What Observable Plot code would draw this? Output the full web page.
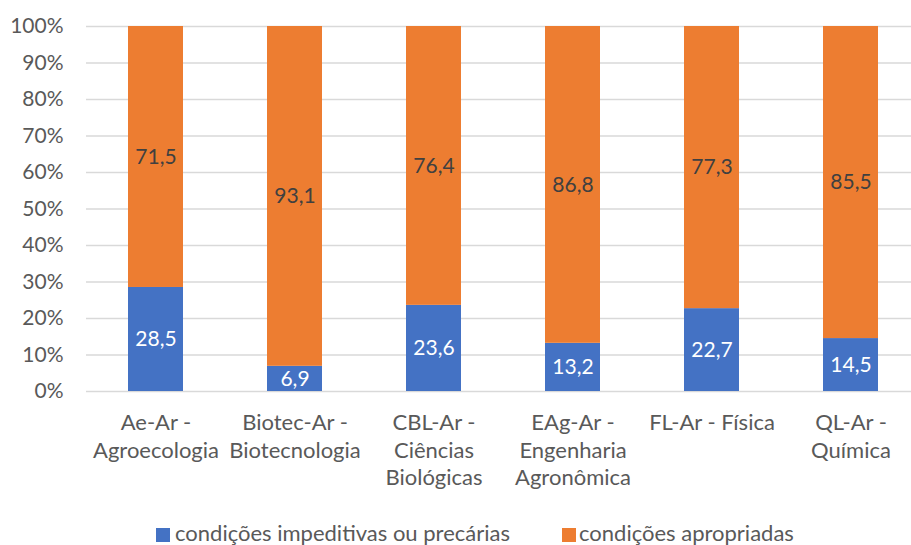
<!DOCTYPE html>
<html>
<head>
<meta charset="utf-8">
<script src="https://cdn.jsdelivr.net/npm/d3@7"></script>
<script src="https://cdn.jsdelivr.net/npm/@observablehq/plot@0.6"></script>
<style>
  html, body { margin: 0; padding: 0; background: #fff; }
  body { width: 911px; height: 545px; overflow: hidden; font-family: Lato, "Open Sans", sans-serif; }
  #legend { height: 40px; position: relative; font-size: 22px; line-height: 22px; color: #595959; }
  .sw { position: absolute; top: 23px; width: 14px; height: 14px; }
  .lt { position: absolute; top: 17px; white-space: nowrap; }
</style>
</head>
<body>
<div id="chart"></div>
<div id="legend"></div>
<script>
const categories = ["Ae-Ar - Agroecologia", "Biotec-Ar - Biotecnologia", "CBL-Ar - Ciências Biológicas", "EAg-Ar - Engenharia Agronômica", "FL-Ar - Física", "QL-Ar - Química"];
const categoryLabels = ["Ae-Ar -\nAgroecologia", "Biotec-Ar -\nBiotecnologia", "CBL-Ar -\nCiências\nBiológicas", "EAg-Ar -\nEngenharia\nAgronômica", "FL-Ar - Física", "QL-Ar -\nQuímica"];
const seriesNames = ["condições impeditivas ou precárias", "condições apropriadas"];
const impeditivas = [28.5, 6.9, 23.6, 13.2, 22.7, 14.5];
const apropriadas = [71.5, 93.1, 76.4, 86.8, 77.3, 85.5];
const yTicks = [0, 10, 20, 30, 40, 50, 60, 70, 80, 90, 100];
const colors = ["#4472C4", "#ED7D31"];

const rows = [];
categories.forEach((c, i) => {
  rows.push({cat: c, series: seriesNames[0], value: impeditivas[i]});
  rows.push({cat: c, series: seriesNames[1], value: apropriadas[i]});
});
const labelOf = new Map(categories.map((c, i) => [c, categoryLabels[i]]));
const fmt = v => v.toFixed(1).replace(".", ",");

const chart = Plot.plot({
  width: 911,
  height: 505,
  marginLeft: 86,
  marginRight: 0,
  marginTop: 26,
  marginBottom: 114,
  style: {fontFamily: "Lato, sans-serif", background: "#fff"},
  x: {domain: categories, range: [84, 922], paddingInner: 0.606, paddingOuter: 0.303, label: null},
  y: {domain: [0, 100], label: null},
  color: {domain: seriesNames, range: colors},
  marks: [
    Plot.ruleY(yTicks, {stroke: "#d9d9d9", strokeWidth: 1.3}),
    Plot.barY(rows, Plot.stackY({x: "cat", y: "value", fill: "series", z: "series"})),
    Plot.text(rows, Plot.stackY({x: "cat", y: "value", z: "series",
      text: d => d.series === seriesNames[0] ? fmt(d.value) : "", fill: "#ffffff", fontSize: 21})),
    Plot.text(rows, Plot.stackY({x: "cat", y: "value", z: "series",
      text: d => d.series === seriesNames[1] ? fmt(d.value) : "", fill: "#404040", fontSize: 21})),
    Plot.axisY({ticks: yTicks, tickFormat: d => d + "%", tickSize: 0, tickPadding: 23, fontSize: 21, label: null}),
    Plot.axisX({tickFormat: d => labelOf.get(d), tickSize: 0, tickPadding: 19, fontSize: 22, lineHeight: 1.25, label: null, textAnchor: "middle"})
  ]
});
chart.querySelectorAll("g[aria-label='y-axis tick label'] text, g[aria-label='x-axis tick label'] text, g[aria-label='y-axis tick label'], g[aria-label='x-axis tick label']").forEach(t => t.setAttribute("fill", "#595959"));
document.getElementById("chart").appendChild(chart);

const legend = document.getElementById("legend");
const items = [{x: 156, tx: 175}, {x: 562, tx: 579}];
seriesNames.forEach((s, i) => {
  const sw = document.createElement("div");
  sw.className = "sw"; sw.style.left = items[i].x + "px"; sw.style.background = colors[i];
  const t = document.createElement("div");
  t.className = "lt"; t.style.left = items[i].tx + "px"; t.textContent = s;
  legend.appendChild(sw); legend.appendChild(t);
});
</script>
</body>
</html>
